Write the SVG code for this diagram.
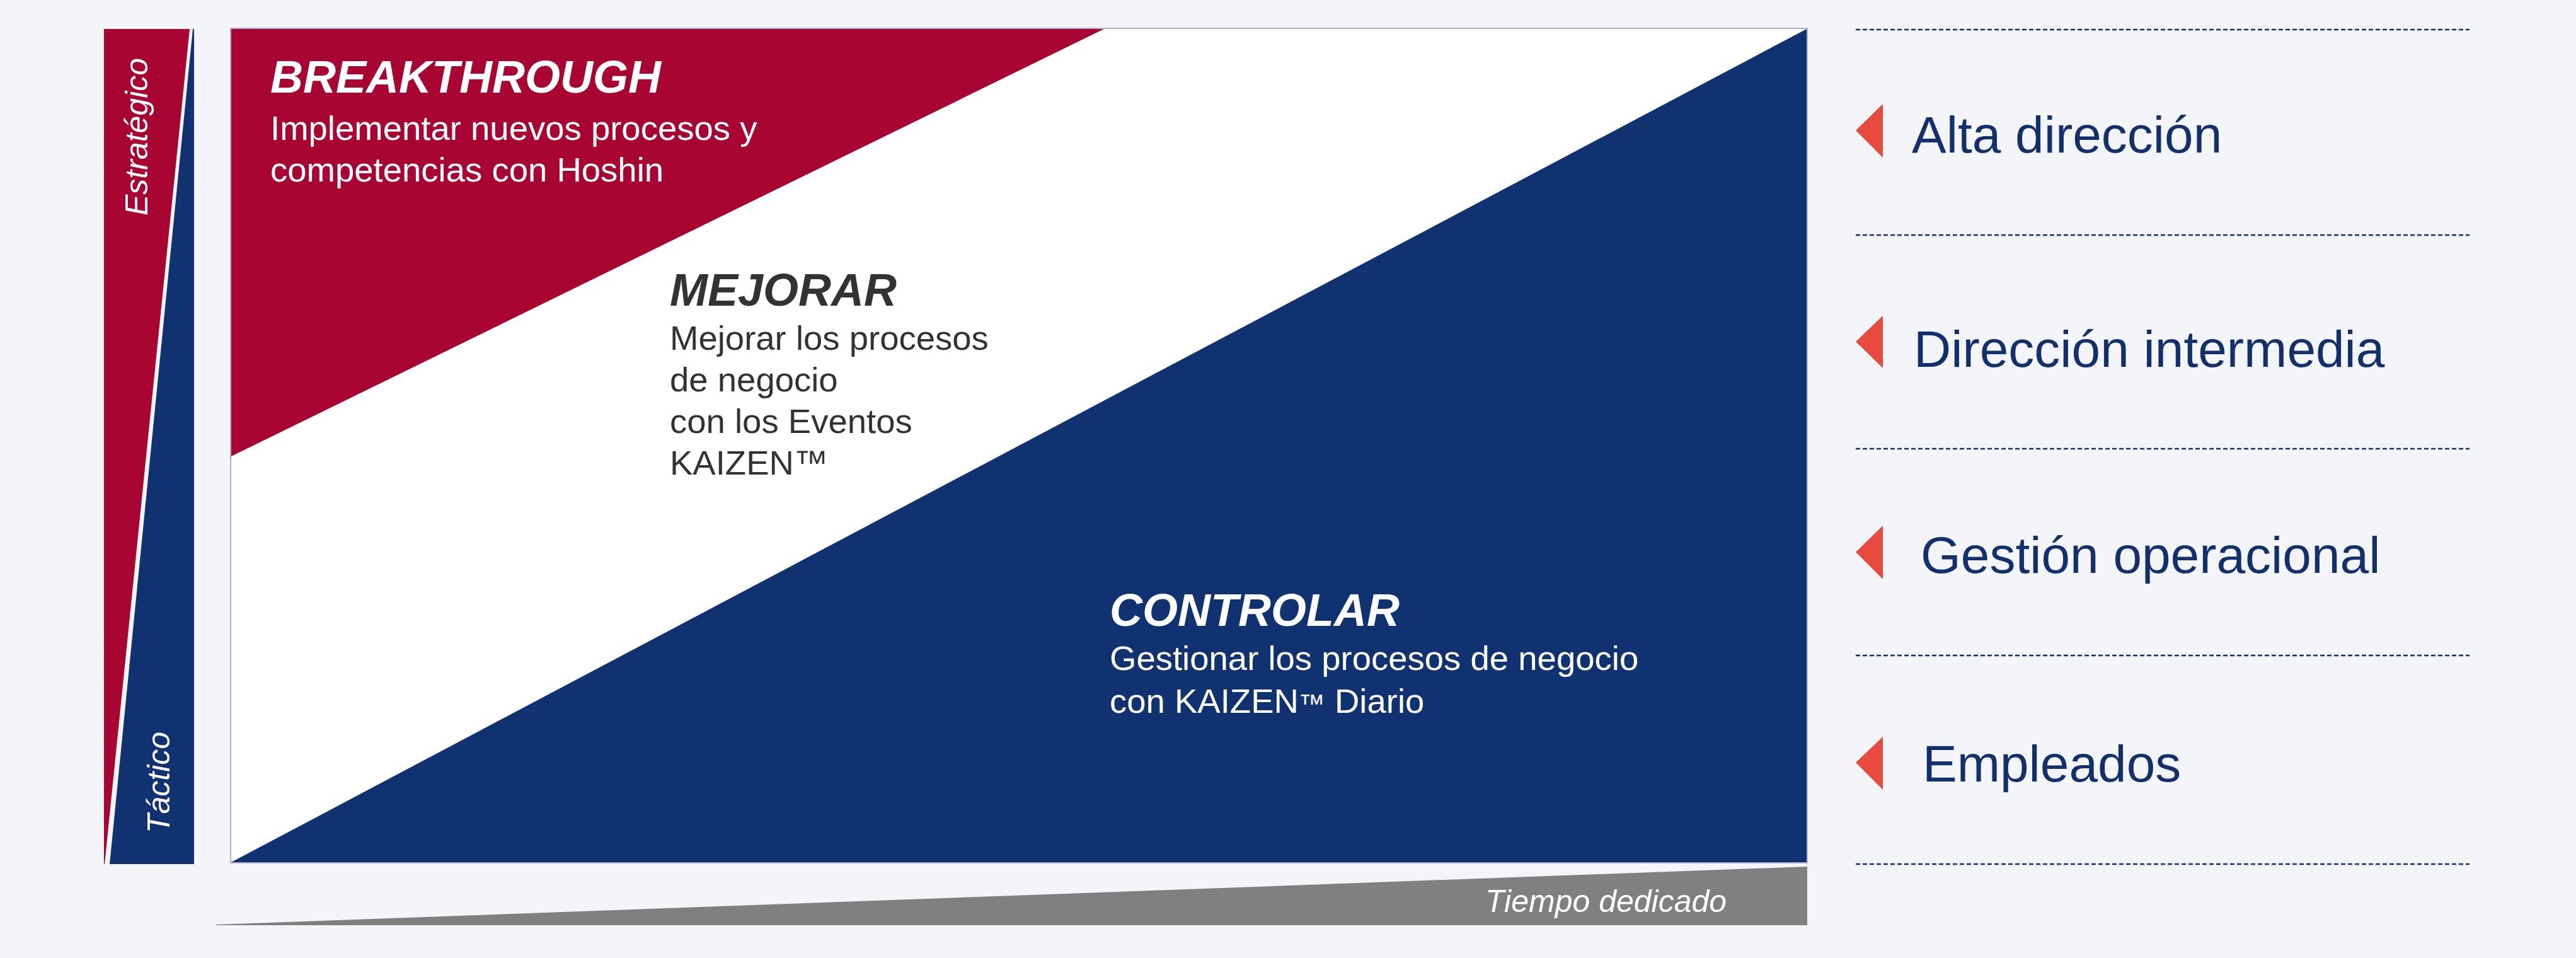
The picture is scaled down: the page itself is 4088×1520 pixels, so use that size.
<svg xmlns="http://www.w3.org/2000/svg" width="4088" height="1520" viewBox="0 0 4088 1520">
  <style>
    text { font-family: "Liberation Sans", Arial, sans-serif; }
    .title { font-size: 72px; font-weight: bold; font-style: italic; }
    .body { font-size: 54.5px; }
    .side { font-size: 50px; font-style: italic; fill: #ffffff; }
    .level { font-size: 82px; fill: #13306d; }
    .dash { stroke: #13306d; stroke-width: 2.5; stroke-dasharray: 7 4; fill: none; }
    .arrow { fill: #e84a40; }
  </style>
  <rect x="0" y="0" width="4088" height="1520" fill="#f3f5f9"/>

  <g id="axis-bar">
    <polygon points="165,46 301,46 166,1371 165,1371" fill="#a80533"/>
    <polygon points="306,46 308,46 308,1371 174,1371" fill="#113271"/>
    <text class="side" transform="translate(234,342) rotate(-90)">Estratégico</text>
    <text class="side" transform="translate(269,1322) rotate(-90)">Táctico</text>
  </g>

  <g id="chart">
    <rect x="366" y="45" width="2502" height="1324" fill="#ffffff" stroke="#b0b0cc" stroke-width="2"/>
    <polygon points="367,46 1752,46 367,724" fill="#a80533"/>
    <polygon points="367,1368 2867,46 2867,1368" fill="#113271"/>
  </g>

  <g id="breakthrough">
    <text class="title" x="429" y="147" fill="#ffffff">BREAKTHROUGH</text>
    <text class="body" fill="#ffffff"><tspan x="429" y="222">Implementar nuevos procesos y</tspan><tspan x="429" y="288">competencias con Hoshin</tspan></text>
  </g>

  <g id="mejorar">
    <text class="title" x="1063" y="485" fill="#333333">MEJORAR</text>
    <text class="body" fill="#333333"><tspan x="1063" y="555">Mejorar los procesos</tspan><tspan x="1063" y="621">de negocio</tspan><tspan x="1063" y="687">con los Eventos</tspan><tspan x="1063" y="753">KAIZEN™</tspan></text>
  </g>

  <g id="controlar">
    <text class="title" x="1761" y="993" fill="#ffffff">CONTROLAR</text>
    <text class="body" fill="#ffffff"><tspan x="1761" y="1063">Gestionar los procesos de negocio</tspan><tspan x="1761" y="1131">con KAIZEN<tspan font-size="42">™</tspan> Diario</tspan></text>
  </g>

  <g id="tiempo">
    <polygon points="342,1467 2868,1375 2868,1468 342,1468" fill="#808080"/>
    <text class="side" x="2357" y="1447" font-size="51">Tiempo dedicado</text>
  </g>

  <g id="connectors">
    <line class="dash" x1="2945" y1="47" x2="3919" y2="47"/>
    <line class="dash" x1="2945" y1="373" x2="3919" y2="373"/>
    <line class="dash" x1="2945" y1="712" x2="3919" y2="712"/>
    <line class="dash" x1="2945" y1="1040" x2="3919" y2="1040"/>
    <line class="dash" x1="2945" y1="1371" x2="3919" y2="1371"/>
  </g>

  <g id="alta-direccion">
    <polygon class="arrow" points="2988,165 2988,250 2945,207"/>
    <text class="level" x="3034" y="242">Alta dirección</text>
  </g>
  <g id="direccion-intermedia">
    <polygon class="arrow" points="2988,501 2988,584 2945,542"/>
    <text class="level" x="3037" y="582">Dirección intermedia</text>
  </g>
  <g id="gestion-operacional">
    <polygon class="arrow" points="2988,834 2988,919 2945,876"/>
    <text class="level" x="3048" y="909">Gestión operacional</text>
  </g>
  <g id="empleados">
    <polygon class="arrow" points="2988,1169 2988,1253 2945,1210"/>
    <text class="level" x="3051" y="1240">Empleados</text>
  </g>
</svg>
